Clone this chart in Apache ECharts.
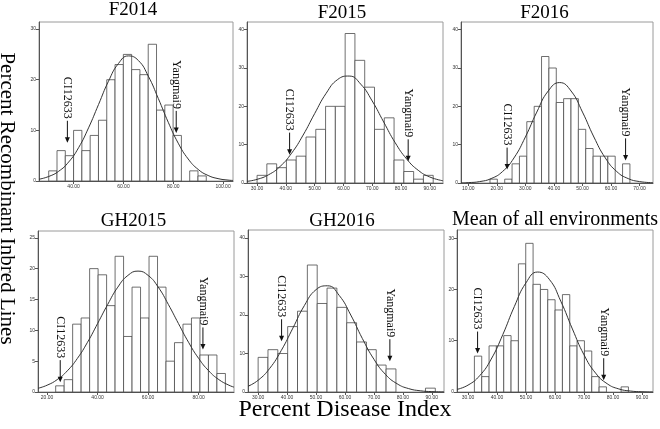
<!DOCTYPE html>
<html><head><meta charset="utf-8">
<script src="https://cdn.jsdelivr.net/npm/echarts@6/dist/echarts.min.js"></script>
<style>html,body{margin:0;padding:0;background:#fff}#c{width:660px;height:429px}</style>
</head><body><div id="c"></div>
<script>
// ---------- data ----------
const panelTitles = ['F2014', 'F2015', 'F2016', 'GH2015', 'GH2016', 'Mean of all environments'];
const yAxisTitle = 'Percent Recombinant Inbred Lines';
const xAxisTitle = 'Percent Disease Index';

// histogram counts (per bin) and bin layout
const f2014Counts = [2, 6, 5, 10, 6, 9, 12, 20, 23, 25, 22, 21, 27, 14, 15, 9, 0, 2, 1];
const f2015Counts = [2, 5, 4, 6, 7, 12, 14, 20, 20, 39, 32, 25, 14, 17, 6, 3, 1, 2];
const f2016Counts = [1, 0, 1, 5, 7, 16, 20, 33, 30, 21, 22, 22, 14, 9, 7, 7, 7, 0, 5];
const gh2015Counts = [1, 2, 11, 12, 20, 19, 14, 22, 9, 17, 12, 22, 17, 5, 8, 11, 12, 6, 6, 3];
const gh2016Counts = [9, 11, 10, 17, 21, 33, 23, 27, 22, 18, 13, 11, 7, 6, 0, 0, 0, 1];
const meanCounts = [7, 3, 9, 9, 11, 10, 25, 29, 21, 20, 18, 16, 19, 9, 10, 8, 3, 1, 0, 0, 1];
const binStarts = [30, 30, 17.6, 23.4, 30, 32.2];
const binWidths = [3.33, 3.4, 2.58, 3.36, 3.4, 2.53];

// fitted normal curves
const f2014CurveX = [26.1, 30, 34, 38, 42, 46, 50, 54, 58, 62, 66, 70, 74, 78, 82, 86, 90, 94, 98, 102, 104];
const f2014CurveY = [0.35, 0.89, 1.92, 3.74, 6.58, 10.5, 15.1, 19.7, 23.2, 24.7, 23.8, 20.7, 16.3, 11.6, 7.47, 4.35, 2.29, 1.09, 0.47, 0.18, 0.11];
const f2015CurveX = [26.5, 30, 34, 38, 42, 46, 50, 54, 58, 62, 66, 70, 74, 78, 82, 86, 90, 94.6];
const f2015CurveY = [0.43, 0.95, 2.15, 4.32, 7.78, 12.5, 18.1, 23.4, 27.0, 27.9, 25.8, 21.4, 15.9, 10.5, 6.24, 3.31, 1.57, 0.58];
const f2016CurveX = [7.5, 10, 14, 18, 22, 26, 30, 34, 38, 42, 46, 50, 54, 58, 62, 66, 70, 74.7];
const f2016CurveY = [0.04, 0.10, 0.37, 1.15, 2.99, 6.53, 12.0, 18.5, 24.0, 26.2, 24.0, 18.5, 12.0, 6.53, 2.99, 1.15, 0.37, 0.08];
const gh2015CurveX = [16.4, 20, 24, 28, 32, 36, 40, 44, 48, 52, 56, 60, 64, 68, 72, 76, 80, 84, 88, 92, 94];
const gh2015CurveY = [0.60, 1.10, 2.01, 3.43, 5.45, 8.06, 11.1, 14.2, 17.0, 18.9, 19.6, 18.9, 17.0, 14.2, 11.1, 8.06, 5.45, 3.43, 2.01, 1.10, 0.79];
const gh2016CurveX = [26.5, 30, 34, 38, 42, 46, 50, 54, 58, 62, 66, 70, 74, 78, 82, 86, 90, 94.2];
const gh2016CurveY = [1.49, 3.05, 6.14, 10.8, 16.6, 22.5, 26.6, 27.6, 25.1, 20.0, 13.9, 8.51, 4.56, 2.14, 0.88, 0.32, 0.10, 0.03];
const meanCurveX = [26.2, 30, 34, 38, 42, 46, 50, 54, 58, 62, 66, 70, 74, 78, 82, 86, 90, 93.8];
const meanCurveY = [0.51, 1.34, 3.17, 6.42, 11.2, 16.7, 21.3, 23.4, 22.0, 17.7, 12.3, 7.26, 3.69, 1.61, 0.60, 0.19, 0.05, 0.01];

// axis ranges and tick labels
const xMins = [26.1, 26.5, 7.45, 16.4, 26.5, 26.2];
const xMaxs = [104, 94.6, 74.7, 94.0, 94.2, 93.8];
const yMaxs = [31.4, 42.0, 42.0, 26.1, 42.1, 31.6];
const xTicks = [[40, 60, 80, 100], [30, 40, 50, 60, 70, 80, 90], [10, 20, 30, 40, 50, 60, 70],
                [20, 40, 60, 80], [30, 40, 50, 60, 70, 80, 90], [30, 40, 50, 60, 70, 80, 90]];
const yTicks = [[0, 10, 20, 30], [0, 10, 20, 30, 40], [0, 10, 20, 30, 40],
                [0, 5, 10, 15, 20, 25], [0, 10, 20, 30, 40], [0, 10, 20, 30]];

// parent-line annotations: [x, arrow tip y]
const annotLabels = ['CI12633', 'Yangmai9'];
const annotX = [[37.5, 81.2], [41.3, 82.5], [23.6, 65.1], [25.2, 81.7], [38.1, 75.5], [33.3, 76.8]];
const annotTip = [[7.55, 9.5], [7.4, 5.65], [3.5, 5.9], [1.6, 6.9], [13.2, 8.0], [7.5, 2.3]];

// ---------- layout ----------
const counts = [f2014Counts, f2015Counts, f2016Counts, gh2015Counts, gh2016Counts, meanCounts];
const curvesX = [f2014CurveX, f2015CurveX, f2016CurveX, gh2015CurveX, gh2016CurveX, meanCurveX];
const curvesY = [f2014CurveY, f2015CurveY, f2016CurveY, gh2015CurveY, gh2016CurveY, meanCurveY];
const gridBoxes = [
  {left: 39, top: 22, width: 194, height: 159},
  {left: 247, top: 22, width: 196, height: 161},
  {left: 461, top: 22, width: 192, height: 161},
  {left: 38, top: 231, width: 196, height: 161},
  {left: 248, top: 230, width: 196, height: 162},
  {left: 457, top: 230, width: 196, height: 162}
];
const titlePos = [[133, 10.5], [342, 13.5], [544.5, 13.5], [133.5, 221], [342, 221], [555, 219.5]];
const titleSizes = [19, 19, 19, 19, 19, 20];
const serif = '"Liberation Serif", "Times New Roman", serif';

const grids = [], xAxes = [], yAxes = [], series = [], graphics = [];
const axisCol = '#555';
for (let i = 0; i < 6; i++) {
  grids.push(Object.assign({show: true, borderColor: '#9a9a9a', borderWidth: 1, backgroundColor: 'transparent'}, gridBoxes[i]));
  xAxes.push({
    type: 'value', gridIndex: i, min: xMins[i], max: xMaxs[i],
    axisLine: {show: true, onZero: false, lineStyle: {color: axisCol, width: 1}},
    axisTick: {show: true, length: 3, customValues: xTicks[i], lineStyle: {color: axisCol}},
    axisLabel: {show: true, customValues: xTicks[i], fontSize: 5, color: '#333', margin: 3,
                fontFamily: 'Liberation Sans', formatter: v => v.toFixed(2)},
    splitLine: {show: false}
  });
  yAxes.push({
    type: 'value', gridIndex: i, min: 0, max: yMaxs[i],
    axisLine: {show: true, lineStyle: {color: axisCol, width: 1}},
    axisTick: {show: true, length: 3, customValues: yTicks[i], lineStyle: {color: axisCol}},
    axisLabel: {show: true, customValues: yTicks[i], fontSize: 5, color: '#333', margin: 3,
                fontFamily: 'Liberation Sans'},
    splitLine: {show: false}
  });
  const start = binStarts[i], w = binWidths[i];
  const barData = [];
  counts[i].forEach((c, k) => { if (c > 0) barData.push([start + k * w, start + (k + 1) * w, c]); });
  series.push({
    type: 'custom', xAxisIndex: i, yAxisIndex: i, data: barData, silent: true,
    renderItem: (params, api) => {
      const p0 = api.coord([api.value(0), 0]);
      const p1 = api.coord([api.value(1), api.value(2)]);
      return {type: 'rect', shape: {x: p0[0], y: p1[1], width: p1[0] - p0[0], height: p0[1] - p1[1]},
              style: {fill: '#fff', stroke: '#4a4a4a', lineWidth: 0.8}};
    },
    z: 2
  });
  series.push({
    type: 'line', xAxisIndex: i, yAxisIndex: i, smooth: true, symbol: 'none', silent: true,
    data: curvesX[i].map((x, k) => [x, curvesY[i][k]]),
    lineStyle: {color: '#333', width: 1}, z: 3
  });
  series.push({
    type: 'custom', xAxisIndex: i, yAxisIndex: i, silent: true,
    data: annotX[i].map((x, k) => [x, annotTip[i][k], k]),
    renderItem: (params, api) => {
      const p = api.coord([api.value(0), api.value(1)]);
      const len = 22;
      const label = annotLabels[api.value(2)];
      return {type: 'group', children: [
        {type: 'line', shape: {x1: p[0], y1: p[1] - len, x2: p[0], y2: p[1] - 4}, style: {stroke: '#111', lineWidth: 1}},
        {type: 'polygon', shape: {points: [[p[0] - 2.5, p[1] - 5.5], [p[0] + 2.5, p[1] - 5.5], [p[0], p[1]]]}, style: {fill: '#111'}},
        {type: 'text', x: p[0], y: p[1] - len - 2, rotation: -Math.PI / 2,
         style: {text: label, font: '12px ' + serif, align: 'right', verticalAlign: 'middle', fill: '#111'}}
      ]};
    },
    z: 4
  });
  graphics.push({type: 'text', x: titlePos[i][0], y: titlePos[i][1],
    style: {text: panelTitles[i], font: titleSizes[i] + 'px ' + serif, align: 'center', verticalAlign: 'middle', fill: '#000'}});
}
graphics.push({type: 'text', x: 7, y: 198.5, rotation: -Math.PI / 2,
  style: {text: yAxisTitle, font: '21px ' + serif, align: 'center', verticalAlign: 'middle', fill: '#000'}});
graphics.push({type: 'text', x: 345, y: 410,
  style: {text: xAxisTitle, font: '24px ' + serif, align: 'center', verticalAlign: 'middle', fill: '#000'}});

const chart = echarts.init(document.getElementById('c'), null, {renderer: 'canvas'});
chart.setOption({
  animation: false,
  backgroundColor: '#fff',
  grid: grids, xAxis: xAxes, yAxis: yAxes, series: series, graphic: graphics
});
</script>
</body></html>
